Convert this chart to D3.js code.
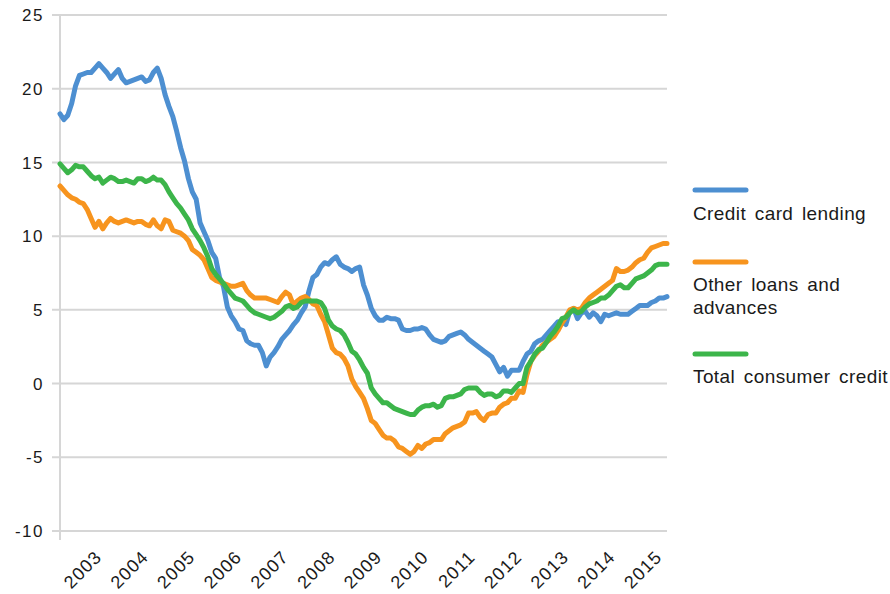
<!DOCTYPE html>
<html lang="en">
<head>
  <meta charset="UTF-8">
  <title>Consumer credit growth</title>
  <script src="https://d3js.org/d3.v7.min.js"></script>
  <style>
    body { margin: 0; background: #fff; font-family: "Liberation Sans", Arial, sans-serif; }
    .ylab { font-size: 17px; letter-spacing: 1.5px; fill: #1a1a1a; }
    .xlab { font-size: 18px; letter-spacing: 1.2px; fill: #1a1a1a; }
    .leg { font-size: 19px; letter-spacing: 0.4px; word-spacing: 3px; fill: #1a1a1a; }
  </style>
</head>
<body>
<div id="chart"></div>
<script>
// monthly, Mar 2002 .. Mar 2015
const months = d3.timeMonths(new Date(2002, 2, 1), new Date(2015, 3, 1));
const yearLabels = [2003, 2004, 2005, 2006, 2007, 2008, 2009, 2010, 2011, 2012, 2013, 2014, 2015];
const yTicks = [25, 20, 15, 10, 5, 0, -5, -10];

const creditCard = [
  18.3, 17.9, 18.2, 19.0, 20.2, 20.9, 21.0, 21.1, 21.1, 21.4, 21.7, 21.4, 21.1, 20.7, 21.0, 21.3,
  20.7, 20.4, 20.5, 20.6, 20.7, 20.8, 20.5, 20.6, 21.1, 21.4, 20.7, 19.6, 18.8, 18.1, 17.1, 16.0,
  15.1, 13.9, 13.0, 12.5, 10.9, 10.3, 9.7, 8.9, 8.5, 7.2, 6.6, 5.2, 4.6, 4.2, 3.7, 3.6,
  2.9, 2.7, 2.6, 2.6, 2.1, 1.2, 1.8, 2.1, 2.5, 3.0, 3.3, 3.6, 4.0, 4.3, 4.8, 5.2,
  6.3, 7.2, 7.4, 7.9, 8.2, 8.1, 8.4, 8.6, 8.1, 7.9, 7.8, 7.6, 7.8, 7.9, 6.7, 6.0,
  5.1, 4.6, 4.3, 4.3, 4.5, 4.4, 4.4, 4.3, 3.7, 3.6, 3.6, 3.7, 3.7, 3.8, 3.7, 3.3,
  3.0, 2.9, 2.8, 2.9, 3.2, 3.3, 3.4, 3.5, 3.3, 3.0, 2.8, 2.6, 2.4, 2.2, 2.0, 1.8,
  1.3, 0.8, 1.1, 0.5, 0.9, 0.9, 0.9, 1.5, 2.0, 2.2, 2.7, 2.9, 3.0, 3.3, 3.6, 3.9,
  4.2, 4.2, 4.0, 4.9, 5.1, 4.4, 4.8, 4.9, 4.5, 4.8, 4.6, 4.2, 4.7, 4.6, 4.7, 4.8,
  4.7, 4.7, 4.7, 4.9, 5.1, 5.3, 5.3, 5.3, 5.5, 5.6, 5.8, 5.8, 5.9
];
const otherLoans = [
  13.4, 13.1, 12.8, 12.6, 12.5, 12.3, 12.2, 11.8, 11.2, 10.6, 11.0, 10.5, 10.9, 11.2, 11.0, 10.9,
  11.0, 11.1, 11.0, 10.9, 11.0, 11.0, 10.8, 10.7, 11.1, 10.7, 10.5, 11.1, 11.0, 10.4, 10.3, 10.2,
  10.0, 9.7, 9.1, 8.9, 8.7, 8.4, 7.8, 7.2, 7.0, 6.9, 6.8, 6.7, 6.6, 6.6, 6.7, 6.8,
  6.3, 6.0, 5.8, 5.8, 5.8, 5.8, 5.7, 5.6, 5.5, 5.9, 6.2, 6.0, 5.3, 5.6, 5.8, 5.9,
  5.7, 5.4, 5.3, 4.7, 4.2, 3.3, 2.4, 2.1, 2.0, 1.7, 1.2, 0.3, -0.2, -0.6, -1.0, -1.7,
  -2.5, -2.7, -3.1, -3.5, -3.7, -3.7, -3.9, -4.3, -4.4, -4.6, -4.8, -4.6, -4.2, -4.4, -4.1, -4.0,
  -3.8, -3.8, -3.8, -3.4, -3.2, -3.0, -2.9, -2.8, -2.6, -2.0, -2.0, -1.9, -2.3, -2.5, -2.1, -2.0,
  -2.0, -1.6, -1.4, -1.3, -1.0, -1.0, -0.5, -0.6, 0.6, 1.5, 1.9, 2.2, 2.6, 2.8, 3.0, 3.2,
  3.6, 4.1, 4.5, 5.0, 5.1, 5.0, 5.1, 5.5, 5.8, 6.0, 6.2, 6.4, 6.6, 6.8, 7.0, 7.8,
  7.6, 7.6, 7.7, 7.9, 8.2, 8.4, 8.5, 8.9, 9.2, 9.3, 9.4, 9.5, 9.5
];
const totalCredit = [
  14.9, 14.6, 14.3, 14.5, 14.8, 14.7, 14.7, 14.4, 14.1, 13.9, 14.0, 13.6, 13.8, 14.0, 13.9, 13.7,
  13.7, 13.8, 13.7, 13.6, 13.9, 13.9, 13.7, 13.8, 14.0, 13.8, 13.8, 13.5, 13.0, 12.6, 12.2, 11.9,
  11.5, 11.1, 10.5, 10.1, 9.7, 9.2, 8.6, 7.8, 7.4, 7.1, 6.8, 6.4, 6.1, 5.8, 5.7, 5.6,
  5.3, 5.0, 4.8, 4.7, 4.6, 4.5, 4.4, 4.5, 4.7, 4.9, 5.2, 5.3, 5.1, 5.2, 5.5, 5.6,
  5.6, 5.6, 5.6, 5.5, 5.1, 4.3, 3.9, 3.7, 3.6, 3.3, 2.8, 2.2, 2.0, 1.6, 1.1, 0.7,
  -0.3, -0.7, -1.0, -1.3, -1.3, -1.5, -1.7, -1.8, -1.9, -2.0, -2.1, -2.1, -1.8, -1.6, -1.5, -1.5,
  -1.4, -1.6, -1.5, -1.0, -0.9, -0.9, -0.8, -0.7, -0.4, -0.3, -0.3, -0.3, -0.6, -0.8, -0.7, -0.7,
  -0.9, -0.8, -0.5, -0.5, -0.6, -0.3, 0.0, 0.0, 1.1, 1.5, 2.0, 2.3, 2.4, 2.8, 3.2, 3.5,
  3.9, 4.4, 4.5, 4.8, 5.0, 4.8, 4.9, 5.2, 5.4, 5.5, 5.6, 5.8, 5.8, 6.0, 6.3, 6.6,
  6.7, 6.5, 6.5, 6.8, 7.1, 7.2, 7.3, 7.5, 7.7, 8.0, 8.1, 8.1, 8.1
];

const seriesNames = ["Credit card lending", "Other loans and advances", "Total consumer credit"];
const seriesColors = ["#4d8fd1", "#f7941e", "#3cb54a"];
const seriesValues = [creditCard, otherLoans, totalCredit];

const W = 890, H = 594;
const plotLeft = 60, plotRight = 667, plotTop = 15, plotBottom = 531;

const svg = d3.select("#chart").append("svg")
  .attr("width", W).attr("height", H);

const x = d3.scalePoint()
  .domain(d3.range(months.length))
  .range([plotLeft, plotRight]);

const y = d3.scaleLinear()
  .domain([-10, 25])
  .range([plotBottom, plotTop]);

// gridlines
svg.append("g")
  .selectAll("line")
  .data(yTicks)
  .join("line")
  .attr("x1", plotLeft - 8).attr("x2", plotRight)
  .attr("y1", d => y(d)).attr("y2", d => y(d))
  .attr("stroke", "#d6d6d6").attr("stroke-width", 2);

// vertical axis line
svg.append("line")
  .attr("x1", plotLeft).attr("x2", plotLeft)
  .attr("y1", y(25)).attr("y2", plotBottom + 9)
  .attr("stroke", "#d6d6d6").attr("stroke-width", 2);

svg.append("g")
  .selectAll("text")
  .data(yTicks)
  .join("text")
  .attr("class", "ylab")
  .attr("x", 44)
  .attr("y", d => y(d))
  .attr("dy", "0.36em")
  .attr("text-anchor", "end")
  .text(d => d);

// year labels at January of each year
svg.append("g")
  .selectAll("text")
  .data(yearLabels)
  .join("text")
  .attr("class", "xlab")
  .attr("text-anchor", "end")
  .attr("transform", d => {
    const idx = months.findIndex(m => m.getFullYear() === d && m.getMonth() === 0);
    return `translate(${x(idx) + 4},${plotBottom + 27}) rotate(-45)`;
  })
  .text(d => d);

const line = d3.line()
  .x((d, i) => x(i))
  .y(d => y(d));

svg.append("g")
  .selectAll("path")
  .data(seriesValues)
  .join("path")
  .attr("fill", "none")
  .attr("stroke", (d, i) => seriesColors[i])
  .attr("stroke-width", 5)
  .attr("stroke-linejoin", "round")
  .attr("stroke-linecap", "round")
  .attr("d", line);

// legend
const legendItems = [
  { lineY: 190, lines: ["Credit card lending"], textY: 220 },
  { lineY: 262, lines: ["Other loans and", "advances"], textY: 291 },
  { lineY: 354, lines: ["Total consumer credit"], textY: 383 }
];
const lg = svg.append("g");
legendItems.forEach((item, i) => {
  lg.append("line")
    .attr("x1", 695).attr("x2", 746)
    .attr("y1", item.lineY).attr("y2", item.lineY)
    .attr("stroke", seriesColors[i])
    .attr("stroke-width", 5)
    .attr("stroke-linecap", "round");
  const t = lg.append("text").attr("class", "leg").attr("x", 693).attr("y", item.textY);
  item.lines.forEach((s, k) => {
    t.append("tspan").attr("x", 693).attr("dy", k === 0 ? 0 : 23).text(s);
  });
});
</script>
</body>
</html>
